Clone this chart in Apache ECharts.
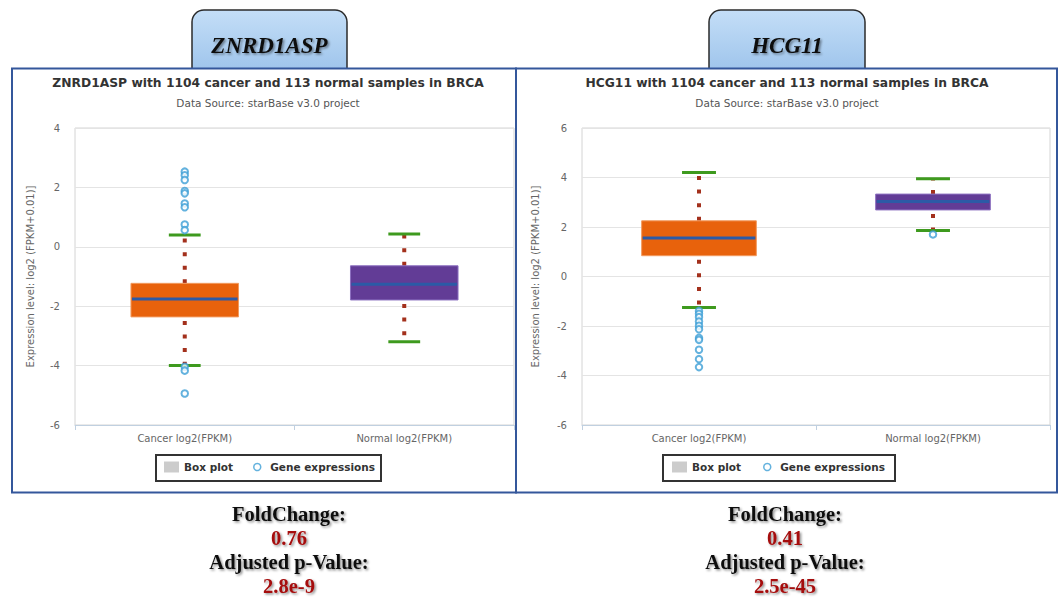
<!DOCTYPE html>
<html><head><meta charset="utf-8">
<script src="https://cdn.jsdelivr.net/npm/echarts@6/dist/echarts.min.js"></script>
<style>html,body{margin:0;padding:0;background:#fff}#c{width:1060px;height:598px}</style>
</head><body><div id="c"></div>
<script>
// ---------- data ----------
const categories = ['Cancer log2(FPKM)', 'Normal log2(FPKM)'];
const genes = ['ZNRD1ASP', 'HCG11'];
const chartTitles = ['ZNRD1ASP with 1104 cancer and 113 normal samples in BRCA', 'HCG11 with 1104 cancer and 113 normal samples in BRCA'];
const subTitle = 'Data Source: starBase v3.0 project';
const yAxisName = 'Expression level: log2 (FPKM+0.01)]';
// each row: [lower whisker, Q1, median, Q3, upper whisker]
const znrdBox = [[-4.0, -2.36, -1.76, -1.23, 0.40], [-3.2, -1.79, -1.26, -0.64, 0.43]];
const znrdOutliers = [[0, 2.53], [0, 2.41], [0, 2.25], [0, 1.88], [0, 1.80], [0, 1.46], [0, 1.33], [0, 0.75], [0, 0.56], [0, -4.04], [0, -4.17], [0, -4.94]];
const hcgBox = [[-1.25, 0.84, 1.56, 2.25, 4.2], [1.86, 2.69, 3.03, 3.33, 3.95]];
const hcgOutliers = [[0, -1.39], [0, -1.51], [0, -1.64], [0, -1.82], [0, -1.99], [0, -2.13], [0, -2.48], [0, -2.56], [0, -2.96], [0, -3.34], [0, -3.66], [1, 1.70]];
const znrdTicks = [-6, -4, -2, 0, 2, 4];
const hcgTicks = [-6, -4, -2, 0, 2, 4, 6];
const foldChange = ['0.76', '0.41'];
const adjPValue = ['2.8e-9', '2.5e-45'];

// ---------- styles ----------
const boxFill = ['#e8620c', '#623c96'];
const boxStroke = ['#f29a5e', '#8c70c0'];
const SANS = '"DejaVu Sans", Verdana, sans-serif';
const SERIF = '"Liberation Serif", "Times New Roman", serif';

function renderBox(params, api) {
  const cat = api.value(0);
  const low = api.coord([cat, api.value(1)]);
  const q1 = api.coord([cat, api.value(2)]);
  const med = api.coord([cat, api.value(3)]);
  const q3 = api.coord([cat, api.value(4)]);
  const high = api.coord([cat, api.value(5)]);
  const band = api.size([1, 0])[0];
  const bw = band * 0.49, cw = band * 0.145;
  const x = q1[0];
  const dot = {stroke: '#a3301c', lineWidth: 4, lineDash: [4, 9.6], lineCap: 'butt'};
  const cap = {stroke: '#3e9a1e', lineWidth: 3};
  return {type: 'group', children: [
    {type: 'line', shape: {x1: x, y1: q3[1], x2: x, y2: high[1]}, style: dot},
    {type: 'line', shape: {x1: x, y1: q1[1] + 4, x2: x, y2: low[1]}, style: dot},
    {type: 'line', shape: {x1: x - cw / 2, y1: high[1], x2: x + cw / 2, y2: high[1]}, style: cap},
    {type: 'line', shape: {x1: x - cw / 2, y1: low[1], x2: x + cw / 2, y2: low[1]}, style: cap},
    {type: 'rect', shape: {x: x - bw / 2, y: q3[1], width: bw, height: q1[1] - q3[1]}, style: {fill: boxFill[cat], stroke: boxStroke[cat], lineWidth: 1}},
    {type: 'line', shape: {x1: x - bw / 2 + 1, y1: med[1], x2: x + bw / 2 - 1, y2: med[1]}, style: {stroke: '#2c5aa6', lineWidth: 3}}
  ]};
}

const grids = [
  {left: 75, top: 128, width: 439, height: 297},
  {left: 582, top: 128, width: 468, height: 297}
];
const boxes = [znrdBox, hcgBox];
const outliers = [znrdOutliers, hcgOutliers];
const ticks = [znrdTicks, hcgTicks];
const nameGaps = [40, 42];
const legendText = {color: '#333', fontSize: 10.5, fontWeight: 'bold', fontFamily: SANS};

const option = {
  animation: false,
  backgroundColor: '#ffffff',
  grid: grids.map(g => Object.assign({show: true, borderColor: '#d4d4d4', borderWidth: 1, backgroundColor: 'transparent'}, g)),
  xAxis: grids.map((g, i) => ({
    type: 'category', gridIndex: i, data: categories,
    axisLine: {show: true, onZero: false, lineStyle: {color: '#c0d0e0', width: 1}},
    axisTick: {show: true, length: 5, lineStyle: {color: '#c0d0e0'}},
    axisLabel: {color: '#666', fontSize: 10, fontFamily: SANS, margin: 8},
    splitLine: {show: false}
  })),
  yAxis: grids.map((g, i) => ({
    type: 'value', gridIndex: i,
    min: ticks[i][0], max: ticks[i][ticks[i].length - 1], interval: ticks[i][1] - ticks[i][0],
    axisLine: {show: false}, axisTick: {show: false},
    axisLabel: {color: '#666', fontSize: 10, fontFamily: SANS, margin: 15},
    splitLine: {show: true, lineStyle: {color: '#e4e4e4', width: 1}},
    name: yAxisName, nameLocation: 'middle', nameGap: nameGaps[i], nameRotate: 90,
    nameTextStyle: {color: '#666', fontSize: 10, fontFamily: SANS}
  })),
  legend: [
    {data: [{name: 'Box plot', icon: 'rect', itemStyle: {color: '#cccccc', borderWidth: 0}}], left: 164, top: 461.5, itemWidth: 15, itemHeight: 11, padding: 0, selectedMode: false, textStyle: legendText},
    {data: [{name: 'Gene expressions', icon: 'circle', itemStyle: {color: '#ffffff', borderColor: '#3d9fd6', borderWidth: 1.5}}], left: 253, top: 461.5, itemWidth: 16, itemHeight: 7, padding: 0, selectedMode: false, textStyle: legendText},
    {data: [{name: 'Box plot', icon: 'rect', itemStyle: {color: '#cccccc', borderWidth: 0}}], left: 672, top: 461.5, itemWidth: 15, itemHeight: 11, padding: 0, selectedMode: false, textStyle: legendText},
    {data: [{name: 'Gene expressions', icon: 'circle', itemStyle: {color: '#ffffff', borderColor: '#3d9fd6', borderWidth: 1.5}}], left: 763, top: 461.5, itemWidth: 16, itemHeight: 7, padding: 0, selectedMode: false, textStyle: legendText}
  ],
  series: [],
  graphic: []
};

for (let i = 0; i < 2; i++) {
  option.series.push({
    type: 'custom', name: 'Box plot', xAxisIndex: i, yAxisIndex: i,
    renderItem: renderBox,
    encode: {x: 0, y: [1, 2, 3, 4, 5]},
    data: boxes[i].map((b, c) => [c].concat(b)),
    z: 2
  });
  option.series.push({
    type: 'scatter', name: 'Gene expressions', xAxisIndex: i, yAxisIndex: i,
    symbol: 'emptyCircle', symbolSize: 6.5,
    itemStyle: {color: '#3d9fd6', borderWidth: 1.5},
    data: outliers[i], z: 3
  });
}

// panels, tabs, titles, annotation text
const panels = [{x: 12, w: 504, cx: 268, tabX: 192, tabW: 155, tabCx: 269.5, noteCx: 289},
                {x: 516, w: 541, cx: 787, tabX: 709, tabW: 156, tabCx: 787, noteCx: 785}];
const shadow = {textShadowColor: 'rgba(0,0,0,0.45)', textShadowBlur: 2, textShadowOffsetX: 1.5, textShadowOffsetY: 1.5};
panels.forEach((p, i) => {
  option.graphic.push(
    {type: 'rect', z: -12, shape: {x: p.tabX, y: 10, width: p.tabW, height: 60, r: [12, 12, 0, 0]},
     style: {fill: new echarts.graphic.LinearGradient(0, 0, 0, 1, [{offset: 0, color: '#c4def7'}, {offset: 1, color: '#9fc5ec'}]), stroke: '#2b2b2b', lineWidth: 1.5}},
    {type: 'text', z: -11, x: p.tabCx, y: 45, style: Object.assign({text: genes[i], fontFamily: SERIF, fontSize: 23, fontWeight: 'bold', fontStyle: 'italic', fill: '#111', align: 'center', verticalAlign: 'middle'}, shadow)},
    {type: 'rect', z: -10, shape: {x: p.x, y: 68.5, width: p.w, height: 424}, style: {fill: '#ffffff', stroke: '#34579b', lineWidth: 2}},
    {type: 'text', z: 5, x: p.cx, y: 83, style: {text: chartTitles[i], fontFamily: SANS, fontSize: 12.3, fontWeight: 'bold', fill: '#333', align: 'center', verticalAlign: 'middle'}},
    {type: 'text', z: 5, x: p.cx, y: 103, style: {text: subTitle, fontFamily: SANS, fontSize: 10.5, fill: '#555', align: 'center', verticalAlign: 'middle'}},
    {type: 'rect', z: -5, shape: {x: p.x + (i === 0 ? 144 : 147), y: 455, width: i === 0 ? 225 : 232, height: 26}, style: {fill: '#ffffff', stroke: '#333', lineWidth: 2}},
    {type: 'text', x: p.noteCx, y: 514, style: Object.assign({text: 'FoldChange:', fontFamily: SERIF, fontSize: 20.5, fontWeight: 'bold', fill: '#111', align: 'center', verticalAlign: 'middle'}, shadow)},
    {type: 'text', x: p.noteCx, y: 538, style: Object.assign({text: foldChange[i], fontFamily: SERIF, fontSize: 20.5, fontWeight: 'bold', fill: '#a50d0d', align: 'center', verticalAlign: 'middle'}, shadow)},
    {type: 'text', x: p.noteCx, y: 562, style: Object.assign({text: 'Adjusted p-Value:', fontFamily: SERIF, fontSize: 20.5, fontWeight: 'bold', fill: '#111', align: 'center', verticalAlign: 'middle'}, shadow)},
    {type: 'text', x: p.noteCx, y: 585.5, style: Object.assign({text: adjPValue[i], fontFamily: SERIF, fontSize: 20.5, fontWeight: 'bold', fill: '#a50d0d', align: 'center', verticalAlign: 'middle'}, shadow)}
  );
});

const chart = echarts.init(document.getElementById('c'), null, {renderer: 'svg'});
chart.setOption(option);
</script>
</body></html>
